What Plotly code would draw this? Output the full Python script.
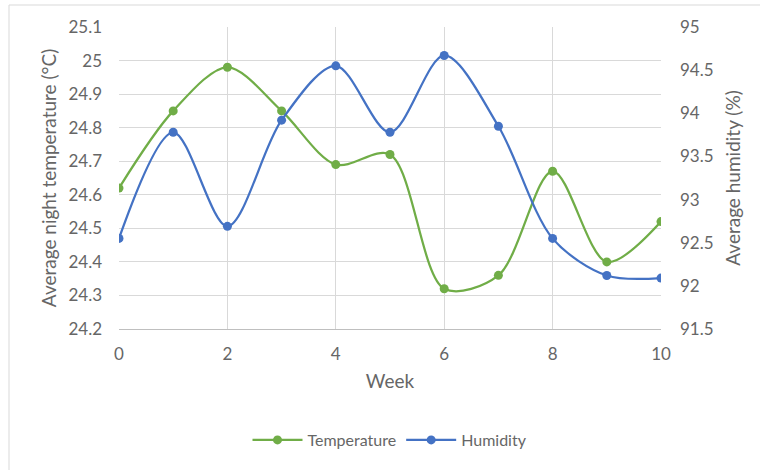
import plotly.graph_objects as go

weeks = [0, 1, 2, 3, 4, 5, 6, 7, 8, 9, 10]
temperature = [24.62, 24.85, 24.98, 24.85, 24.69, 24.72, 24.32, 24.36, 24.67, 24.40, 24.52]
humidity = [92.55, 93.78, 92.69, 93.92, 94.55, 93.78, 94.67, 93.85, 92.55, 92.12, 92.09]

green = "#70AD47"
blue = "#4472C4"
text_col = "#666666"
grid_col = "#D9D9D9"
font_family = "Lato, 'Open Sans', sans-serif"

fig = go.Figure()
fig.add_trace(go.Scatter(
    x=weeks, y=temperature, name="Temperature", mode="lines+markers",
    line=dict(color=green, width=2.25, shape="spline", smoothing=0.9),
    marker=dict(color=green, size=9), yaxis="y",
))
fig.add_trace(go.Scatter(
    x=weeks, y=humidity, name="Humidity", mode="lines+markers",
    line=dict(color=blue, width=2.25, shape="spline", smoothing=0.9),
    marker=dict(color=blue, size=9), yaxis="y2",
))

L, R, T, B = 119, 99, 27, 141
W, H = 760, 470
pw, ph = W - L - R, H - T - B

def px_x(p):
    return (p - L) / pw

def px_y(p):
    return 1 - (p - T) / ph

fig.update_layout(
    width=W, height=H,
    margin=dict(l=L, r=R, t=T, b=B),
    paper_bgcolor="white", plot_bgcolor="white",
    font=dict(family=font_family, color=text_col, size=16),
    showlegend=True,
    legend=dict(orientation="h", x=0.5, xanchor="center", y=px_y(440), yanchor="middle",
                font=dict(size=16, color=text_col), itemwidth=50),
    xaxis=dict(
        range=[0, 10], tickmode="array", tickvals=[0, 2, 4, 6, 8, 10],
        showgrid=True, gridcolor=grid_col, gridwidth=1,
        showline=True, linecolor="#BFBFBF", linewidth=1,
        zeroline=False, ticks="", tickfont=dict(size=17, color=text_col),
        ticklabelstandoff=10,
        title=dict(text="Week", font=dict(size=19, color=text_col), standoff=11),
    ),
    yaxis=dict(
        range=[24.2, 25.1], tickmode="array",
        tickvals=[24.2, 24.3, 24.4, 24.5, 24.6, 24.7, 24.8, 24.9, 25.0, 25.1],
        ticktext=["24.2", "24.3", "24.4", "24.5", "24.6", "24.7", "24.8", "24.9", "25", "25.1"],
        showgrid=True, gridcolor=grid_col, gridwidth=1,
        showline=False, zeroline=False, ticks="",
        tickfont=dict(size=17, color=text_col),
        ticklabelstandoff=16,
        title=dict(text="Average night temperature (°C)", font=dict(size=19, color=text_col), standoff=6),
    ),
    yaxis2=dict(
        range=[91.5, 95], overlaying="y", side="right", tickmode="array",
        tickvals=[91.5, 92, 92.5, 93, 93.5, 94, 94.5, 95],
        ticktext=["91.5", "92", "92.5", "93", "93.5", "94", "94.5", "95"],
        showgrid=False, showline=False, zeroline=False, ticks="",
        tickfont=dict(size=17, color=text_col),
        ticklabelstandoff=18,
        title=dict(text="Average humidity (%)", font=dict(size=19, color=text_col), standoff=14),
    ),
    shapes=[
        dict(type="line", xref="paper", yref="paper",
             x0=px_x(9), x1=px_x(9), y0=px_y(5), y1=px_y(480),
             line=dict(color="#D9D9D9", width=1)),
        dict(type="line", xref="paper", yref="paper",
             x0=px_x(9), x1=px_x(770), y0=px_y(5), y1=px_y(5),
             line=dict(color="#D9D9D9", width=1)),
    ],
)

fig.write_html("out.html")
